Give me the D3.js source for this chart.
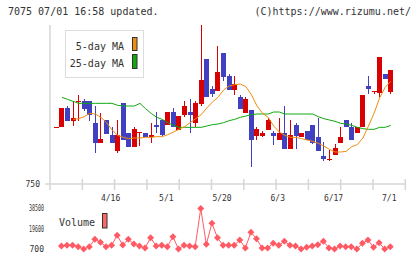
<!DOCTYPE html>
<html>
<head>
<meta charset="utf-8">
<script src="https://cdn.jsdelivr.net/npm/d3@7"></script>
<style>
  body { margin: 0; background: #fff; }
  text { font-family: "DejaVu Sans Mono", monospace; fill: #333; }
</style>
</head>
<body>
<div id="chart"></div>
<script>
// daily candles, index 0 = first (partly shown) day, index 60 = 7/1
var open = [835, 835, 864, 845, 873, 875, 875, 842, 812, 846, 823, 800, 872, 827, 806, 827, 827, 820, 839, 846,
  838, 858, 831, 854, 858, 841, 870, 937, 892, 889, 946, 912, 891, 880, 857, 861, 822, 822, 831, 826,
  816, 826, 803, 838, 820, 830, 838, 820, 792, 787, 794, 812, 846, 835, 826, 835, 897, 888, 886, 915, 888];
var high = [835, 864, 867, 874, 884, 877, 875, 867, 856, 846, 836, 846, 872, 827, 836, 828, 827, 842, 858, 846,
  858, 864, 852, 875, 877, 875, 988, 937, 897, 957, 946, 915, 912, 883, 880, 861, 835, 829, 849, 829,
  849, 867, 846, 842, 826, 830, 838, 849, 813, 801, 810, 835, 846, 842, 835, 883, 912, 889, 941, 915, 921];
var low = [835, 835, 845, 837, 845, 860, 845, 797, 812, 825, 812, 797, 816, 806, 806, 807, 820, 812, 827, 822,
  838, 835, 831, 851, 826, 836, 867, 880, 880, 889, 905, 891, 883, 863, 857, 775, 816, 820, 831, 809,
  816, 803, 803, 803, 820, 816, 810, 800, 784, 784, 794, 812, 835, 816, 826, 835, 885, 885, 880, 908, 885];
var close = [835, 864, 845, 849, 875, 863, 854, 812, 818, 825, 812, 824, 816, 806, 833, 828, 820, 824, 835, 823,
  858, 835, 852, 867, 854, 871, 906, 880, 885, 918, 911, 891, 900, 863, 878, 816, 832, 826, 846, 822,
  826, 803, 824, 822, 826, 816, 812, 800, 787, 788, 804, 820, 835, 816, 835, 883, 892, 889, 941, 908, 921];

// moving averages
var ma5 = [null, null, null, 847, 848, 851, 856, 855, 850, 842, 831, 823, 820, 818, 819, 819, 820, 820, 821, 821,
  824, 828, 832, 836, 842, 848, 854, 864, 873, 880, 891, 897, 899, 900, 896, 884, 867, 856, 850, 837,
  828, 823, 820, 820, 818, 816, 814, 811, 807, 802, 798, 798, 799, 806, 809, 819, 837, 856, 879, 895, 904];
var ma25 = [null, 880, 877, 874, 871, 871, 871, 871, 871, 871, 871, 868, 867, 867, 867, 871, 863, 856, 850, 847,
  842, 838, 835, 835, 835, 835, 835, 837, 839, 840, 842, 845, 847, 850, 852, 854, 855, 855, 855, 858,
  858, 855, 855, 855, 855, 855, 855, 851, 848, 846, 844, 841, 840, 838, 835, 833, 832, 832, 835, 835, 838];

var volume = [null, 3500, 4150, 4150, 2850, 700, 2850, 9750, 6950, 2850, 4150, 13500, 4400, 9750, 5400, 3500, 1600, 11250, 3500, 4150,
  2850, 12200, 700, 4150, 3500, 2850, 38500, 5100, 24700, 11250, 4150, 4150, 4150, 9100, 1600, 16300, 10300, 1600, 1600, 6000,
  4150, 7900, 4150, 3500, 700, 2300, 3500, 4700, 7900, 1600, 700, 3500, 2850, 2850, 700, 6000, 9100, 2300, 6600, 700, 2850];

var dateIndex = [10, 20, 30, 40, 50, 60];
var dateLabels = ["4/16", "5/1", "5/20", "6/3", "6/17", "7/1"];
var priceTicks = [750];
var volumeTicks = [38500, 19600, 700];

var svgWidth = 420;
var svgHeight = 259;

var svg = d3.select("#chart")
  .append("svg")
  .attr("width", svgWidth)
  .attr("height", svgHeight);

var data = open.map(function(o, i) {
  return { i: i, open: o, high: high[i], low: low[i], close: close[i],
    ma5: ma5[i], ma25: ma25[i], volume: volume[i] };
});

// scales
var x = d3.scaleLinear().domain([-1.05, 62.7]).range([50, 405.3]);
var y = d3.scaleLinear().domain([750, 990]).range([184, 24]);
var yVol = d3.scaleLinear().domain([700, 38500]).range([249, 208.5]);

// header
svg.append("text").attr("x", 8).attr("y", 15).style("font-size", "10px")
  .text("7075 07/01 16:58 updated.");
svg.append("text").attr("x", 411).attr("y", 15).attr("text-anchor", "end").style("font-size", "10px")
  .text("(C)https://www.rizumu.net/");

// axes
var axisColor = "#d6d6d6";
var tickVals = d3.range(12).map(function(k) { return -1.05 + k * (63.75 / 11); });

svg.append("line")
  .attr("x1", 45).attr("x2", x(62.7)).attr("y1", y(750)).attr("y2", y(750))
  .attr("stroke", axisColor).attr("stroke-width", 1.5);
svg.append("line")
  .attr("x1", x(-1.05)).attr("x2", x(-1.05)).attr("y1", 25).attr("y2", 190)
  .attr("stroke", axisColor).attr("stroke-width", 1.5);
svg.append("g").selectAll("line")
  .data(tickVals.slice(1))
  .enter()
  .append("line")
  .attr("x1", d => x(d)).attr("x2", d => x(d))
  .attr("y1", 179).attr("y2", 190)
  .attr("stroke", axisColor).attr("stroke-width", 1.5);

svg.append("g").selectAll("text")
  .data(dateIndex)
  .enter()
  .append("text")
  .attr("x", d => x(d) - 1)
  .attr("y", 201)
  .attr("text-anchor", "middle")
  .style("font-size", "8px")
  .text((d, i) => dateLabels[i]);

svg.append("g").selectAll("text")
  .data(priceTicks)
  .enter()
  .append("text")
  .attr("x", 40)
  .attr("y", d => y(d) + 2.7)
  .attr("text-anchor", "end")
  .style("font-size", "8px")
  .text(d => d);

// candles
var upColor = "#d80000";
var downColor = "#4040c0";
var candles = svg.append("g").attr("shape-rendering", "crispEdges");

candles.selectAll("line")
  .data(data)
  .enter()
  .append("line")
  .attr("x1", d => Math.round(x(d.i)) + 0.5)
  .attr("x2", d => Math.round(x(d.i)) + 0.5)
  .attr("y1", d => y(d.high))
  .attr("y2", d => y(d.low))
  .attr("stroke", d => d.close >= d.open ? upColor : downColor);

candles.selectAll("rect")
  .data(data)
  .enter()
  .append("rect")
  .attr("x", d => Math.round(x(d.i)) - 2)
  .attr("width", 5)
  .attr("y", d => y(Math.max(d.open, d.close)))
  .attr("height", d => Math.max(1, y(Math.min(d.open, d.close)) - y(Math.max(d.open, d.close))))
  .attr("fill", d => d.close >= d.open ? upColor : downColor);

// moving averages
var maLine = function(key) {
  return d3.line()
    .defined(d => d[key] != null)
    .x(d => x(d.i) + 0.5)
    .y(d => y(d[key]));
};

svg.append("path")
  .datum(data)
  .attr("d", maLine("ma25"))
  .attr("fill", "none")
  .attr("stroke", "#10a810")
  .attr("stroke-width", 1);

svg.append("path")
  .datum(data)
  .attr("d", maLine("ma5"))
  .attr("fill", "none")
  .attr("stroke", "#f08c10")
  .attr("stroke-width", 1);

// legend
var legend = svg.append("g");
legend.append("rect")
  .attr("x", 65.5).attr("y", 30.5).attr("width", 78).attr("height", 47)
  .attr("fill", "#fff").attr("stroke", "#dcdcdc");
legend.append("text").attr("x", 124).attr("y", 50).attr("text-anchor", "end")
  .style("font-size", "10px").text("5-day MA");
legend.append("text").attr("x", 124).attr("y", 66.5).attr("text-anchor", "end")
  .style("font-size", "10px").text("25-day MA");
legend.append("rect").attr("x", 132.5).attr("y", 37.5).attr("width", 4.5).attr("height", 13)
  .attr("fill", "#f08c10").attr("stroke", "#333");
legend.append("rect").attr("x", 132.5).attr("y", 54.5).attr("width", 4.5).attr("height", 14)
  .attr("fill", "#10a810").attr("stroke", "#333");

// volume panel
var volColor = "#ff5a64";
var volData = data.filter(d => d.volume != null);

svg.append("g").selectAll("text")
  .data(volumeTicks)
  .enter()
  .append("text")
  .attr("x", 44)
  .attr("y", d => yVol(d) + 2.8)
  .attr("text-anchor", "end")
  .attr("textLength", d => String(d).length > 3 ? 15 : null)
  .attr("lengthAdjust", "spacingAndGlyphs")
  .style("font-size", "8px")
  .text(d => d);

svg.append("path")
  .datum(volData)
  .attr("d", d3.line().x(d => x(d.i)).y(d => yVol(d.volume)))
  .attr("fill", "none")
  .attr("stroke", volColor)
  .attr("stroke-width", 1);

svg.append("g").selectAll("path")
  .data(volData)
  .enter()
  .append("path")
  .attr("d", d3.symbol(d3.symbolSquare, 24))
  .attr("transform", d => `translate(${x(d.i)}, ${yVol(d.volume)}) rotate(45)`)
  .attr("fill", volColor);

svg.append("text").attr("x", 59).attr("y", 226).style("font-size", "10px").text("Volume");
svg.append("rect").attr("x", 102.5).attr("y", 213.5).attr("width", 4.5).attr("height", 14.5)
  .attr("fill", "#ff6666").attr("stroke", "#333");
</script>
</body>
</html>
